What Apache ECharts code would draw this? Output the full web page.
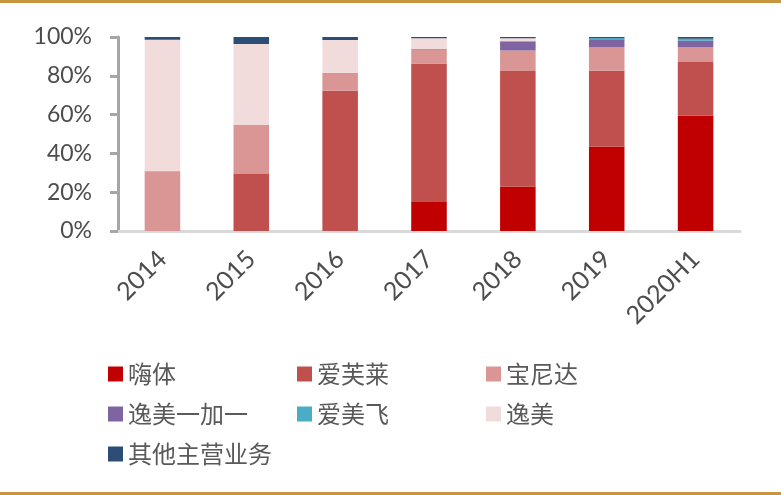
<!DOCTYPE html>
<html><head><meta charset="utf-8">
<script src="https://cdn.jsdelivr.net/npm/echarts@6/dist/echarts.min.js"></script>
<style>html,body{margin:0;padding:0;background:#fff}#c{width:781px;height:495px}</style>
</head><body><div id="c"></div>
<script>
const categories = ['2014','2015','2016','2017','2018','2019','2020H1'];
const yTicks = [0,20,40,60,80,100];
const haiti   = [0, 0, 0, 15.0, 23.0, 43.5, 59.6];
const aifulai = [0, 29.4, 72.3, 71.4, 59.5, 39.1, 27.5];
const baonida = [30.6, 25.2, 9.3, 7.2, 10.6, 12.2, 7.7];
const yimeiyjy = [0.2, 0, 0, 0.3, 4.7, 3.7, 3.3];
const aimeifei = [0, 0, 0, 0, 0, 1.0, 1.0];
const yimei   = [67.8, 41.8, 16.9, 5.4, 1.5, 0, 0];
const other   = [1.4, 3.6, 1.5, 0.7, 0.7, 0.5, 0.9];
const seriesNames = ['嗨体','爱芙莱','宝尼达','逸美一加一','爱美飞','逸美','其他主营业务'];
const seriesData = [haiti, aifulai, baonida, yimeiyjy, aimeifei, yimei, other];
const colors = ['#c00000','#c0504d','#d99694','#8064a2','#4bacc6','#f2dcdb','#2c4d75'];

const chart = echarts.init(document.getElementById('c'), null, {renderer:'canvas'});
const legendText = {fontSize: 24, color: '#595959', fontFamily: '"Noto Sans CJK SC", sans-serif', lineHeight: 26};
function legendCol(left, names){
  return {orient:'vertical', left: left, top: 356, itemWidth: 15, itemHeight: 15, itemGap: 14,
    icon: 'rect', textStyle: legendText, data: names, selectedMode: false};
}
chart.setOption({
  animation: false,
  color: colors,
  grid: {left: 118, right: 41, top: 37, bottom: 264, containLabel: false},
  legend: [
    legendCol(103, ['嗨体','逸美一加一','其他主营业务']),
    legendCol(292, ['爱芙莱','爱美飞']),
    legendCol(481, ['宝尼达','逸美'])
  ],
  xAxis: {
    type: 'category', data: categories,
    axisLine: {lineStyle: {color: '#d9d9d9', width: 3}},
    axisTick: {show: false},
    axisLabel: {rotate: 45, margin: 24, fontSize: 25, color: '#4d4d4d', fontFamily: 'Lato, sans-serif', interval: 0}
  },
  yAxis: {
    type: 'value', min: 0, max: 100, interval: 20,
    axisLine: {show: true, lineStyle: {color: '#a6a6a6', width: 3}},
    axisTick: {show: true, length: 8, lineStyle: {color: '#a6a6a6', width: 3}},
    splitLine: {show: false},
    axisLabel: {margin: 26, fontSize: 23, color: '#4d4d4d', fontFamily: 'Lato, sans-serif',
      formatter: v => yTicks.includes(v) ? v + '%' : ''}
  },
  graphic: [
    {type:'rect', left:0, top:0, shape:{width:781, height:3}, style:{fill:'#c8963e'}},
    {type:'rect', left:0, top:492, shape:{width:781, height:3}, style:{fill:'#c8963e'}}
  ],
  series: seriesNames.map((n, i) => ({
    name: n, type: 'bar', stack: 'total', barWidth: '40%', data: seriesData[i],
    itemStyle: {color: colors[i], borderWidth: 0}
  }))
});
</script></body></html>
